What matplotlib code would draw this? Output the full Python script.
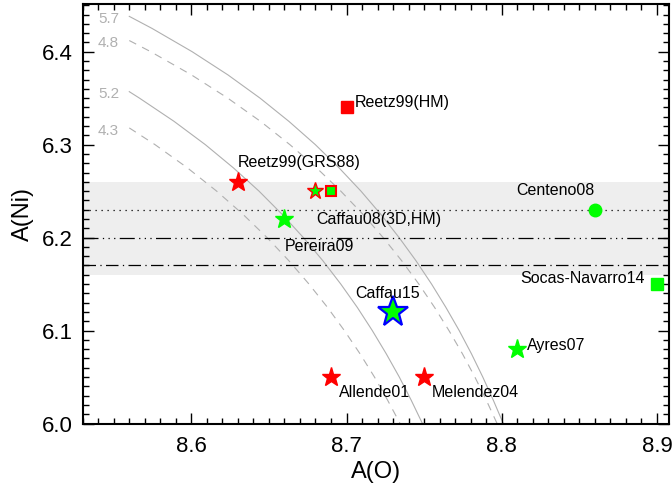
import matplotlib
matplotlib.use("Agg")
import matplotlib.pyplot as plt
from matplotlib.ticker import MultipleLocator

plt.rcParams['font.family'] = ['Liberation Sans', 'DejaVu Sans']

# ---- data: abundance determinations ----
names = ["Reetz99(HM)", "Reetz99(GRS88)", "Caffau08(3D,HM)", "Pereira09", "Centeno08",
         "Socas-Navarro14", "Caffau15", "Ayres07", "Allende01", "Melendez04"]
ao = [8.70, 8.63, 8.68, 8.66, 8.86, 8.90, 8.73, 8.81, 8.69, 8.75]
ani = [6.34, 6.26, 6.25, 6.22, 6.23, 6.15, 6.12, 6.08, 6.05, 6.05]
# extra Caffau08 square
sq_ao = [8.69]
sq_ani = [6.25]

# label anchor positions (A(O), A(Ni))
lab_x = [8.7055, 8.630, 8.6802, 8.6602, 8.8092, 8.8118, 8.7053, 8.8163, 8.6950, 8.7550]
lab_y = [6.3457, 6.2804, 6.2199, 6.1901, 6.2503, 6.1560, 6.1400, 6.0844, 6.0331, 6.0331]

# horizontal reference levels
band_lo, band_hi = 6.16, 6.26
hline_dot = 6.23
hline_dashdotdot = 6.20
hline_dashdot = 6.17

# iso-curves
c57_x = [8.5600, 8.5747, 8.6005, 8.6236, 8.6443, 8.6629, 8.6799, 8.6952, 8.7093, 8.7221,
         8.7339, 8.7448, 8.7548, 8.7640, 8.7726, 8.7805, 8.7878, 8.7946, 8.8010]
c57_y = [6.438, 6.425, 6.400, 6.375, 6.350, 6.325, 6.300, 6.275, 6.250, 6.225,
         6.200, 6.175, 6.150, 6.125, 6.100, 6.075, 6.050, 6.025, 6.000]
c48_x = [8.5600, 8.5738, 8.6001, 8.6235, 8.6446, 8.6635, 8.6807, 8.6963, 8.7106, 8.7236,
         8.7356, 8.7466, 8.7567, 8.7660, 8.7747, 8.7827, 8.7901, 8.7970]
c48_y = [6.412, 6.400, 6.375, 6.350, 6.325, 6.300, 6.275, 6.250, 6.225, 6.200,
         6.175, 6.150, 6.125, 6.100, 6.075, 6.050, 6.025, 6.000]
c52_x = [8.5600, 8.5666, 8.5889, 8.6090, 8.6271, 8.6436, 8.6585, 8.6722, 8.6848, 8.6963,
         8.7069, 8.7166, 8.7256, 8.7340, 8.7417, 8.7489]
c52_y = [6.357, 6.350, 6.325, 6.300, 6.275, 6.250, 6.225, 6.200, 6.175, 6.150,
         6.125, 6.100, 6.075, 6.050, 6.025, 6.000]
c43_x = [8.5600, 8.5766, 8.5975, 8.6163, 8.6333, 8.6488, 8.6629, 8.6758, 8.6877, 8.6986,
         8.7087, 8.7180, 8.7265, 8.7345]
c43_y = [6.318, 6.300, 6.275, 6.250, 6.225, 6.200, 6.175, 6.150, 6.125, 6.100,
         6.075, 6.050, 6.025, 6.000]
curve_labels = ["5.7", "4.8", "5.2", "4.3"]

fig = plt.figure(figsize=(6.72, 4.92), dpi=100)
ax = fig.add_axes([0.1231, 0.1392, 0.996 - 0.1231, 0.9913 - 0.1392])

ax.axhspan(band_lo, band_hi, color='#eeeeee', zorder=0, lw=0)

gray = '#b0b0b0'
dash = (0, (7, 6))
ax.plot(c57_x, c57_y, color=gray, lw=0.8, zorder=1)
ax.plot(c48_x, c48_y, color=gray, lw=0.8, ls=dash, zorder=1)
ax.plot(c52_x, c52_y, color=gray, lw=0.8, zorder=1)
ax.plot(c43_x, c43_y, color=gray, lw=0.8, ls=dash, zorder=1)
for lbl, cx, cy in zip(curve_labels, [c57_x, c48_x, c52_x, c43_x], [c57_y, c48_y, c52_y, c43_y]):
    ax.text(cx[0] - 0.0065, cy[0] - 0.003, lbl, color=gray, fontsize=11, ha='right', va='center')

ax.axhline(hline_dot, color='k', lw=0.9, ls=(0, (1, 3.8)), zorder=2)
ax.axhline(hline_dashdotdot, color='k', lw=0.9, ls=(0, (12, 3.5, 1, 3.5, 1, 3.5, 1, 3.5)), zorder=2)
ax.axhline(hline_dashdot, color='k', lw=0.9, ls=(0, (10, 3.5, 1, 3.5)), zorder=2)

# markers
red, green, blue = '#ff0000', '#00ff00', '#0000ff'
ax.plot(ao[0], ani[0], 's', ms=9, color=red, mec=red, zorder=4)
ax.plot(ao[1], ani[1], '*', ms=14, color=red, mec=red, zorder=4)
ax.plot(ao[2], ani[2], '*', ms=12.5, color=green, mec=red, mew=1.0, zorder=4)
ax.plot(sq_ao, sq_ani, 's', ms=7.5, color=green, mec=red, mew=1.5, zorder=4)
ax.plot(ao[3], ani[3], '*', ms=14, color=green, mec=green, zorder=4)
ax.plot(ao[4], ani[4], 'o', ms=9, color=green, mec=green, zorder=4)
ax.plot(ao[5], ani[5], 's', ms=8.5, color=green, mec=green, zorder=4, clip_on=False)
ax.plot(ao[6], ani[6], '*', ms=23, color=green, mec=blue, mew=1.6, zorder=4)
ax.plot(ao[7], ani[7], '*', ms=14, color=green, mec=green, zorder=4)
ax.plot(ao[8], ani[8], '*', ms=14, color=red, mec=red, zorder=4)
ax.plot(ao[9], ani[9], '*', ms=14, color=red, mec=red, zorder=4)

for n, lx, ly in zip(names, lab_x, lab_y):
    ax.text(lx, ly, n, fontsize=11.5, ha='left', va='center', color='k', zorder=5)

ax.set_xlim(8.53, 8.908)
ax.set_ylim(6.0, 6.451)
ax.xaxis.set_major_locator(MultipleLocator(0.1))
ax.xaxis.set_minor_locator(MultipleLocator(0.01))
ax.yaxis.set_major_locator(MultipleLocator(0.1))
ax.yaxis.set_minor_locator(MultipleLocator(0.01))
ax.xaxis.set_major_formatter(plt.FormatStrFormatter('%.1f'))
ax.yaxis.set_major_formatter(plt.FormatStrFormatter('%.1f'))
ax.tick_params(which='both', direction='in', top=True, right=True, width=1.0)
ax.tick_params(which='major', length=8, labelsize=16)
ax.tick_params(axis='x', which='major', pad=9)
ax.tick_params(axis='y', which='major', pad=7)
ax.tick_params(which='minor', length=4)
for s in ax.spines.values():
    s.set_linewidth(1.5)

ax.set_xlabel('A(O)', fontsize=17, labelpad=3)
ax.set_ylabel('A(Ni)', fontsize=17, labelpad=6)

fig.savefig('out.png', dpi=100)
